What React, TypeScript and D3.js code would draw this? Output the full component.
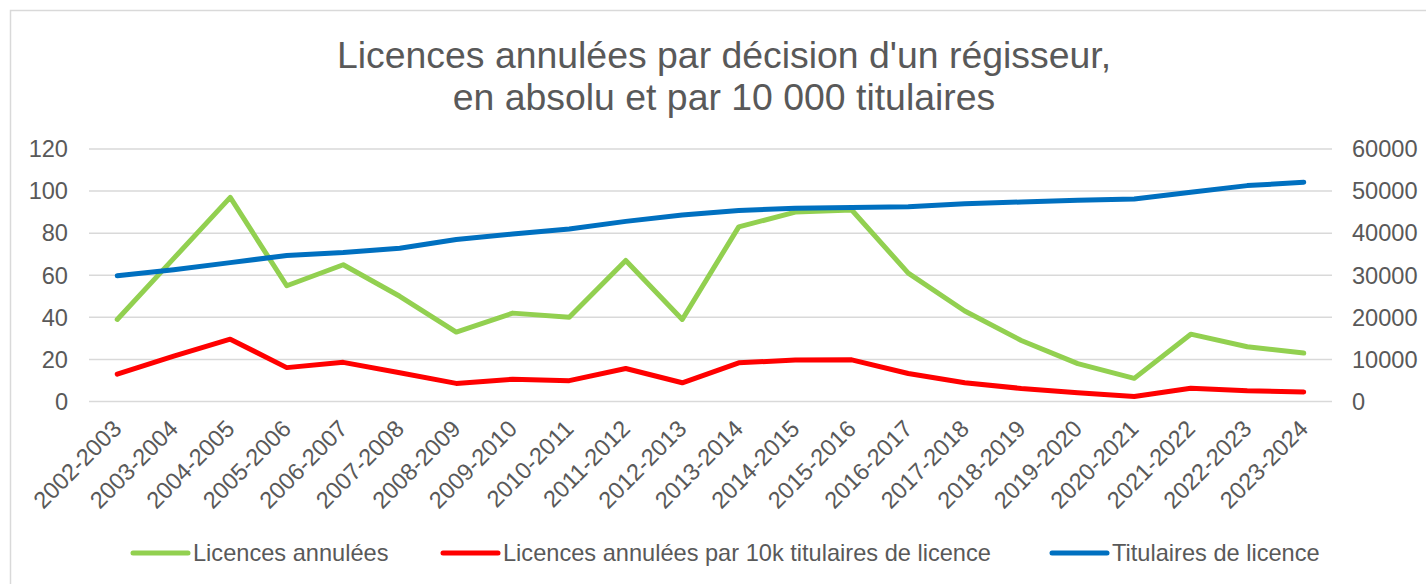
import React, { useRef, useEffect } from 'react';
import * as d3 from 'd3';

// categories (seasons)
const seasons = [
  '2002-2003', '2003-2004', '2004-2005', '2005-2006', '2006-2007', '2007-2008',
  '2008-2009', '2009-2010', '2010-2011', '2011-2012', '2012-2013', '2013-2014',
  '2014-2015', '2015-2016', '2016-2017', '2017-2018', '2018-2019', '2019-2020',
  '2020-2021', '2021-2022', '2022-2023', '2023-2024',
];

// Licences annulées (left axis)
const cancelled = [39, 68, 97, 55, 65, 50, 33, 42, 40, 67, 39, 83, 90, 91, 61, 43, 29, 18, 11, 32, 26, 23];

// Licences annulées par 10k titulaires (left axis)
const cancelledPer10k = [13, 21.6, 29.6, 16.1, 18.6, 13.7, 8.6, 10.6, 9.9, 15.7, 8.9, 18.4, 19.7, 19.8, 13.3, 8.9, 6.2, 4.2, 2.4, 6.3, 5.1, 4.5];

// Titulaires de licence (right axis)
const holders = [29900, 31300, 33000, 34700, 35400, 36400, 38500, 39800, 41000, 42800, 44300, 45400, 45900, 46100, 46300, 47000, 47400, 47800, 48100, 49700, 51300, 52100];

const leftTicks = [0, 20, 40, 60, 80, 100, 120];
const rightTicks = [0, 10000, 20000, 30000, 40000, 50000, 60000];

const titleLines = ["Licences annulées par décision d'un régisseur,", 'en absolu et par 10 000 titulaires'];

const series = [
  { name: 'Licences annulées', values: cancelled, color: '#92D050', axis: 'left' },
  { name: 'Licences annulées par 10k titulaires de licence', values: cancelledPer10k, color: '#FF0000', axis: 'left' },
  { name: 'Titulaires de licence', values: holders, color: '#0070C0', axis: 'right' },
];

const App = () => {
  const svgRef = useRef(null);

  useEffect(() => {
    document.body.style.margin = '0';
    const svg = d3.select(svgRef.current);
    svg.selectAll('*').remove();

    const width = 1426;
    const height = 584;
    const font = '"Liberation Sans", Arial, sans-serif';
    const textColor = '#595959';
    const fontSize = '23.6px';
    const plot = { left: 89, right: 1332, top: 149, bottom: 401.5 };

    svg.attr('width', width).attr('height', height).style('display', 'block');

    svg.append('rect')
      .attr('x', 0).attr('y', 0).attr('width', width).attr('height', height)
      .attr('fill', '#fff');

    // chart frame (runs off the right/bottom edges)
    svg.append('rect')
      .attr('x', 10.5).attr('y', 10.5)
      .attr('width', 1500).attr('height', 700)
      .attr('fill', 'none')
      .attr('stroke', '#d9d9d9')
      .attr('stroke-width', 1.5);

    const xScale = d3.scaleBand()
      .domain(seasons)
      .range([plot.left, plot.right])
      .padding(0);
    const xPos = (s) => xScale(s) + xScale.bandwidth() / 2;

    const yLeft = d3.scaleLinear().domain([0, 120]).range([plot.bottom, plot.top]);
    const yRight = d3.scaleLinear().domain([0, 60000]).range([plot.bottom, plot.top]);

    // gridlines
    svg.append('g')
      .selectAll('line')
      .data(leftTicks)
      .join('line')
      .attr('x1', plot.left)
      .attr('x2', plot.right)
      .attr('y1', d => yLeft(d))
      .attr('y2', d => yLeft(d))
      .attr('stroke', '#d9d9d9')
      .attr('stroke-width', 1.5);

    // left axis labels
    svg.append('g')
      .selectAll('text')
      .data(leftTicks)
      .join('text')
      .attr('x', 68)
      .attr('y', d => yLeft(d))
      .attr('dy', '0.35em')
      .attr('text-anchor', 'end')
      .attr('font-family', font)
      .attr('font-size', fontSize)
      .attr('fill', textColor)
      .text(d => d);

    // right axis labels
    svg.append('g')
      .selectAll('text')
      .data(rightTicks)
      .join('text')
      .attr('x', 1352)
      .attr('y', d => yRight(d))
      .attr('dy', '0.35em')
      .attr('text-anchor', 'start')
      .attr('font-family', font)
      .attr('font-size', fontSize)
      .attr('fill', textColor)
      .text(d => d);

    // x labels, rotated
    svg.append('g')
      .selectAll('text')
      .data(seasons)
      .join('text')
      .attr('transform', d => `translate(${xPos(d) - 6}, ${plot.bottom + 17}) rotate(-45)`)
      .attr('text-anchor', 'end')
      .attr('dy', '0.7em')
      .attr('font-family', font)
      .attr('font-size', fontSize)
      .attr('fill', textColor)
      .text(d => d);

    // lines
    series.forEach(s => {
      const y = s.axis === 'left' ? yLeft : yRight;
      const line = d3.line()
        .x((d, i) => xPos(seasons[i]))
        .y(d => y(d));
      svg.append('path')
        .datum(s.values)
        .attr('d', line)
        .attr('fill', 'none')
        .attr('stroke', s.color)
        .attr('stroke-width', 5)
        .attr('stroke-linecap', 'round')
        .attr('stroke-linejoin', 'round');
    });

    // title
    svg.append('g')
      .selectAll('text')
      .data(titleLines)
      .join('text')
      .attr('x', 724)
      .attr('y', (d, i) => 68 + i * 42)
      .attr('text-anchor', 'middle')
      .attr('font-family', font)
      .attr('font-size', '37.4px')
      .attr('fill', textColor)
      .text(d => d);

    // legend
    const legendX = [133, 443, 1052];
    const legend = svg.append('g')
      .selectAll('g')
      .data(series)
      .join('g')
      .attr('transform', (d, i) => `translate(${legendX[i]}, 553)`);
    legend.append('line')
      .attr('x1', 0).attr('x2', 55)
      .attr('y1', 0).attr('y2', 0)
      .attr('stroke', d => d.color)
      .attr('stroke-width', 5)
      .attr('stroke-linecap', 'round');
    legend.append('text')
      .attr('x', 60)
      .attr('y', 0)
      .attr('dy', '0.35em')
      .attr('font-family', font)
      .attr('font-size', fontSize)
      .attr('fill', textColor)
      .text(d => d.name);
  }, []);

  return <svg ref={svgRef}></svg>;
};

export default App;
